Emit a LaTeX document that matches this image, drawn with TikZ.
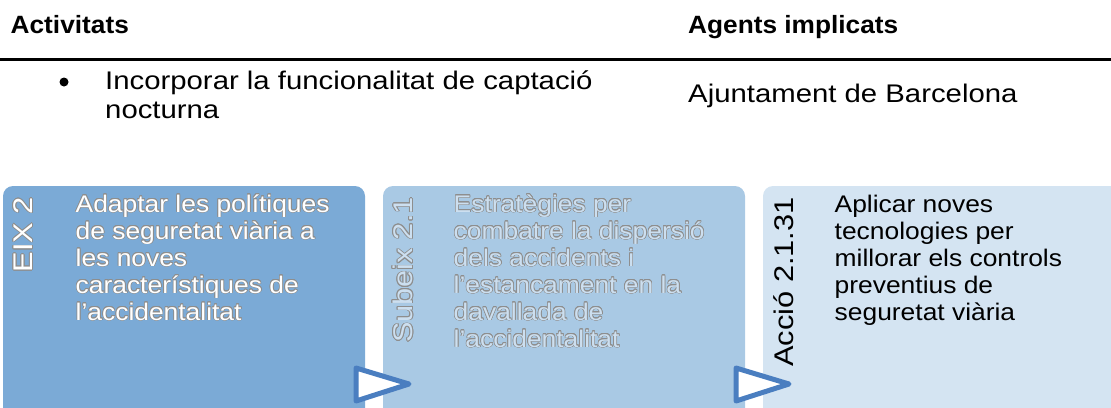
\documentclass[tikz,border=0pt]{standalone}
\usepackage{fontspec}
\setmainfont{Liberation Sans}
\usepackage{contour}
\contourlength{0.6pt}
\contournumber{16}
\newfontfamily\hdrfont[FakeStretch=1.05]{Liberation Sans}
\newfontfamily\topfont[FakeStretch=1.15]{Liberation Sans}
\newfontfamily\boxfont[FakeStretch=1.1]{Liberation Sans}
\newfontfamily\labfont[FakeStretch=1.14]{Liberation Sans}
\definecolor{boxA}{HTML}{7BAAD6}
\definecolor{boxB}{HTML}{A9C9E4}
\definecolor{boxC}{HTML}{D4E4F2}
\definecolor{triC}{HTML}{4A7EC0}
\definecolor{olc}{HTML}{8E8E8E}
\definecolor{fillB}{HTML}{CCDFF0}
\tikzset{
  hdr/.style={anchor=base west, inner sep=0pt, font=\hdrfont\bfseries\fontsize{25}{30}\selectfont},
  body/.style={anchor=base west, inner sep=0pt, font=\topfont\fontsize{25.5}{29}\selectfont},
  boxbg/.style={rounded corners=10pt},
  btext/.style={anchor=base west, inner sep=0pt, font=\boxfont\fontsize{24}{27}\selectfont},
  vlab/.style={rotate=90, anchor=base east, inner sep=0pt, font=\labfont\fontsize{27}{30}\selectfont},
  tri/.style={draw=triC, line width=5pt, fill=white, line join=round}
}
\begin{document}
\begin{tikzpicture}[x=1pt,y=-1pt]
\useasboundingbox (0,0) rectangle (1111,407);
\clip (0,0) rectangle (1111,407);
% header table
\node[hdr] (act) at (10.5,33) {Activitats};
\node[hdr] (ag) at (688,33) {Agents implicats};
\draw[line width=3pt] (0,59.5) -- (1111,59.5);
\node[circle, fill=black, inner sep=0pt, minimum size=9pt] (bul) at (64,82) {};
\node[body] (inc) at (105,89) {\vtop{\baselineskip=29pt\hbox{Incorporar la funcionalitat de captació}\hbox{nocturna}}};
\node[body] (aj) at (688,102) {Ajuntament de Barcelona};
% boxes
\fill[boxA, boxbg] (3,186) rectangle (365,440);
\fill[boxB, boxbg] (383,186) rectangle (745,440);
\fill[boxC, boxbg] (763,186) rectangle (1143,440);
% vertical labels
\node[vlab, text=white] (l1) at (32.5,197) {\contour{olc}{EIX 2}};
\node[vlab, text=fillB] (l2) at (412.5,197) {\contour{olc}{Subeix 2.1}};
\node[vlab, text=black] (l3) at (793,197) {Acció 2.1.31};
% box texts
\node[btext, text=white] (t1) at (75.5,212) {\vtop{\baselineskip=27pt
  \hbox{\contour{olc}{Adaptar les polítiques}}
  \hbox{\contour{olc}{de seguretat viària a}}
  \hbox{\contour{olc}{les noves}}
  \hbox{\contour{olc}{característiques de}}
  \hbox{\contour{olc}{l’accidentalitat}}}};
\node[btext, text=fillB] (t2) at (453.5,212) {\vtop{\baselineskip=27pt
  \hbox{\contour{olc}{Estratègies per}}
  \hbox{\contour{olc}{combatre la dispersió}}
  \hbox{\contour{olc}{dels accidents i}}
  \hbox{\contour{olc}{l’estancament en la}}
  \hbox{\contour{olc}{davallada de}}
  \hbox{\contour{olc}{l’accidentalitat}}}};
\node[btext, text=black] (t3) at (834.5,212) {\vtop{\baselineskip=27pt
  \hbox{Aplicar noves}
  \hbox{tecnologies per}
  \hbox{millorar els controls}
  \hbox{preventius de}
  \hbox{seguretat viària}}};
% arrows
\draw[tri] (356,368) -- (409,384) -- (356,401) -- cycle;
\draw[tri] (736,368) -- (789,384) -- (736,401) -- cycle;
\end{tikzpicture}
\end{document}
